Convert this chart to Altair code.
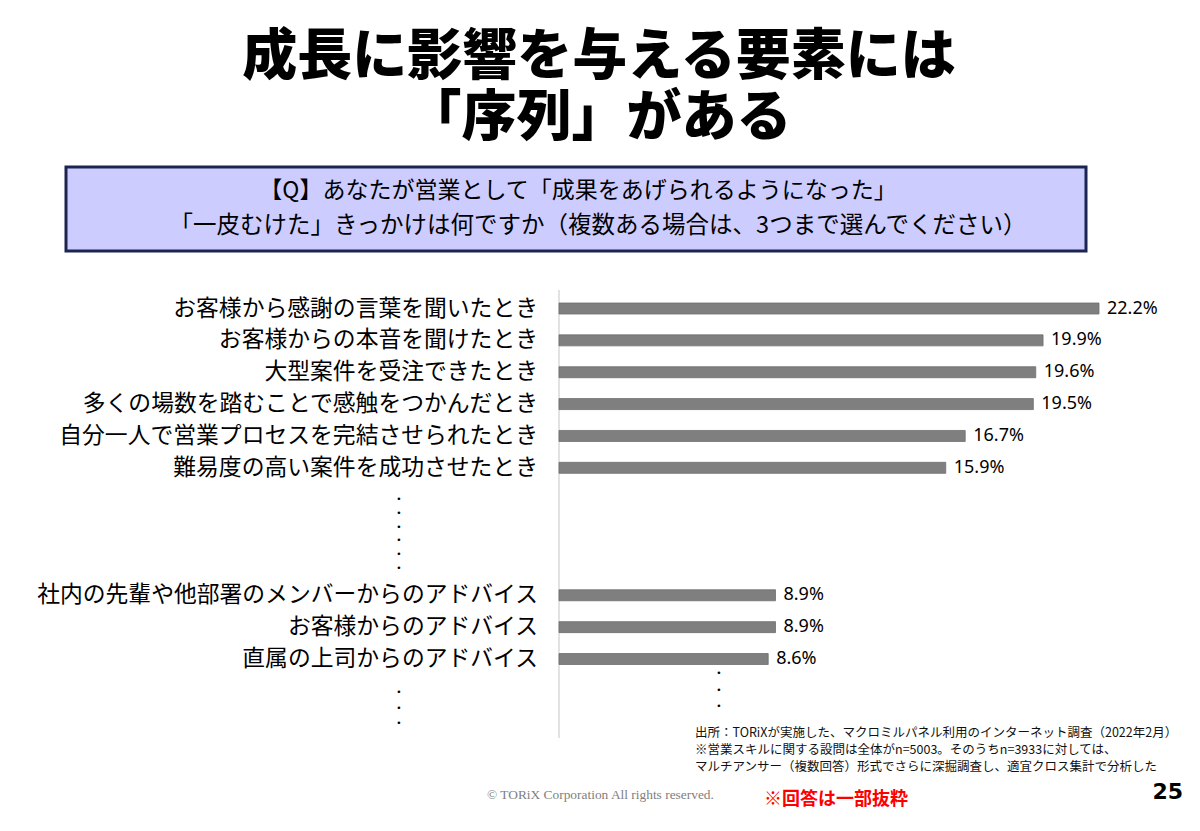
import altair as alt
import pandas as pd

# ---------------- data ----------------
categories = [
    "お客様から感謝の言葉を聞いたとき",
    "お客様からの本音を聞けたとき",
    "大型案件を受注できたとき",
    "多くの場数を踏むことで感触をつかんだとき",
    "自分一人で営業プロセスを完結させられたとき",
    "難易度の高い案件を成功させたとき",
    "社内の先輩や他部署のメンバーからのアドバイス",
    "お客様からのアドバイス",
    "直属の上司からのアドバイス",
]
values = [22.2, 19.9, 19.6, 19.5, 16.7, 15.9, 8.9, 8.9, 8.6]
# slot of each category in the list (gap = omitted answers)
slots = [0, 1, 2, 3, 4, 5, 9, 10, 11]

title_lines = ["成長に影響を与える要素には", "「序列」がある"]
question_lines = [
    "【Q】あなたが営業として「成果をあげられるようになった」",
    "「一皮むけた」きっかけは何ですか（複数ある場合は、3つまで選んでください）",
]
footnote_lines = [
    "出所：TORiXが実施した、マクロミルパネル利用のインターネット調査（2022年2月）",
    "※営業スキルに関する設問は全体がn=5003。そのうちn=3933に対しては、",
    "マルチアンサー（複数回答）形式でさらに深掘調査し、適宜クロス集計で分析した",
]
copyright_text = "© TORiX Corporation All rights reserved."
excerpt_note = "※回答は一部抜粋"
page_number = "25"

df = pd.DataFrame({"category": categories, "value": values, "slot": slots})

JP = "Noto Sans CJK JP"

xscale = alt.Scale(domain=[0, 22.2], range=[551, 1091], padding=0)
yscale = alt.Scale(domain=[0, 11], range=[300.5, 651], padding=0)


def text_layer(txt, x, y, size, align="center", weight="normal", color="#000000",
               font=JP, baseline="middle", lh=None):
    kw = {}
    if lh is not None:
        kw = {"lineBreak": "\n", "lineHeight": lh}
    return alt.Chart(pd.DataFrame({"t": [txt]})).mark_text(
        align=align, baseline=baseline, fontSize=size, fontWeight=weight,
        color=color, font=font, **kw
    ).encode(x=alt.value(x), y=alt.value(y), text="t:N")


def dots_layer(n, x, y, lh):
    return text_layer("\n".join(["•"] * n), x, y, 9, font="DejaVu Sans", lh=lh)


# title (one two-line text)
title = text_layer("\n".join(title_lines), 591, 49, 55, weight=900, lh=61)

# question box
box = alt.Chart(pd.DataFrame({"a": [0]})).mark_rect(
    fill="#CCCCFF", stroke="#1c2452", strokeWidth=3
).encode(x=alt.value(58), x2=alt.value(1078), y=alt.value(159), y2=alt.value(243))
q1 = text_layer(question_lines[0], 570, 183, 23)
q2 = text_layer(question_lines[1], 590, 218, 23.5)

# axis line
axis_line = alt.Chart(pd.DataFrame({"a": [0]})).mark_rule(
    color="#d9d9d9", strokeWidth=1.5
).encode(x=alt.value(551), y=alt.value(282), y2=alt.value(730))

bars = alt.Chart(df).mark_bar(
    orient="horizontal", size=11, color="#7f7f7f", stroke="#6e6e6e", strokeWidth=0.8
).encode(
    x=alt.X("value:Q", scale=xscale, axis=None),
    y=alt.Y("slot:Q", scale=yscale, axis=None),
)

value_labels = alt.Chart(df).transform_calculate(
    lab="format(datum.value, '.1f') + '%'"
).mark_text(
    align="left", baseline="middle", dx=8, fontSize=18, font="Noto Sans", color="#000000"
).encode(
    x=alt.X("value:Q", scale=xscale, axis=None),
    y=alt.Y("slot:Q", scale=yscale, axis=None),
    text="lab:N",
)

cat_labels = alt.Chart(df).mark_text(
    align="right", baseline="middle", fontSize=22.8, font=JP, color="#000000"
).encode(
    x=alt.value(530),
    y=alt.Y("slot:Q", scale=yscale, axis=None),
    text="category:N",
)

dots1 = dots_layer(6, 391, 491, 13.8)
dots2 = dots_layer(3, 391, 684, 15.5)
dots3 = dots_layer(3, 711, 665, 16.5)

foot = [text_layer(t, 687, 725 + 17 * i, 12.5, align="left", color="#111111")
        for i, t in enumerate(footnote_lines)]

copy_t = text_layer(copyright_text, 479, 787, 13.4, align="left", color="#808080",
                    font="Liberation Serif")
note_t = text_layer(excerpt_note, 756, 792, 18, align="left", color="#ff0000",
                    weight="bold")
page_t = text_layer(page_number, 1175, 784, 22, align="right", weight="bold",
                    font="DejaVu Sans")

chart = alt.layer(
    title, box, q1, q2, axis_line, bars, value_labels, cat_labels,
    dots1, dots2, dots3, *foot, copy_t, note_t, page_t
).properties(
    width=1184, height=815, autosize=alt.AutoSizeParams(type="none"), padding=0,
    background="#ffffff"
).configure_view(stroke="transparent")

chart.save("out.html", embed_options={"renderer": "svg", "actions": False})
